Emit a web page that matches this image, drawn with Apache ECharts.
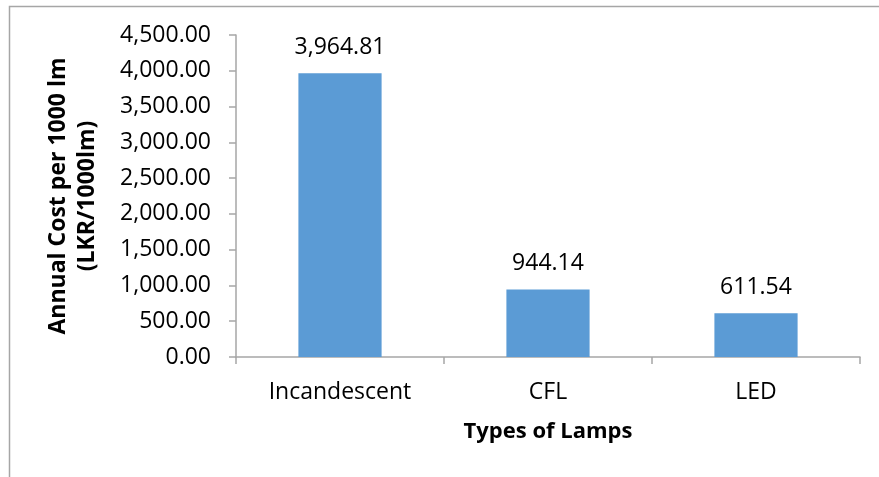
<!DOCTYPE html>
<html><head><meta charset="utf-8">
<script src="https://cdn.jsdelivr.net/npm/echarts@6/dist/echarts.min.js"></script>
<style>html,body{margin:0;padding:0;background:#fff}#c{width:879px;height:477px}</style>
</head><body><div id="c"></div>
<script>
const categories = ['Incandescent', 'CFL', 'LED'];
const values = [3964.81, 944.14, 611.54];
const yTitle = 'Annual Cost per 1000 lm\n(LKR/1000lm)';
const xTitle = 'Types of Lamps';
const fmt = v => v.toLocaleString('en-US', {minimumFractionDigits: 2, maximumFractionDigits: 2});
const FONT = 'Open Sans';
const chart = echarts.init(document.getElementById('c'));
chart.setOption({
  animation: false,
  graphic: [{type: 'rect', shape: {x: 9.5, y: 6.5, width: 900, height: 500}, style: {fill: 'none', stroke: '#a6a6a6', lineWidth: 1.5}, z: -1}],
  grid: {left: 236, right: 19, top: 35, bottom: 120, containLabel: false},
  xAxis: {
    type: 'category', data: categories,
    name: xTitle, nameLocation: 'middle', nameGap: 64,
    nameTextStyle: {fontFamily: FONT, fontWeight: 'bold', fontSize: 22, color: '#000'},
    axisLine: {lineStyle: {color: '#a6a6a6', width: 1.5}},
    axisTick: {show: true, length: 7, lineStyle: {color: '#a6a6a6', width: 1.5}},
    axisLabel: {fontFamily: FONT, fontSize: 23, color: '#000', margin: 24}
  },
  yAxis: {
    type: 'value', min: 0, max: 4500, interval: 500,
    name: yTitle, nameLocation: 'middle', nameGap: 134, nameRotate: 90,
    nameTextStyle: {fontFamily: FONT, fontWeight: 'bold', fontSize: 23, color: '#000', lineHeight: 29},
    axisLine: {show: true, lineStyle: {color: '#a6a6a6', width: 1.5}},
    axisTick: {show: true, length: 7, lineStyle: {color: '#a6a6a6', width: 1.5}},
    splitLine: {show: false},
    axisLabel: {fontFamily: FONT, fontSize: 23, color: '#000', margin: 25, formatter: v => fmt(v)}
  },
  series: [{
    type: 'bar', data: values, barWidth: '40%',
    itemStyle: {color: '#5b9bd5'},
    label: {show: true, position: 'top', distance: 14, fontFamily: FONT, fontSize: 23, color: '#000', formatter: p => fmt(p.value)}
  }]
});
</script></body></html>
